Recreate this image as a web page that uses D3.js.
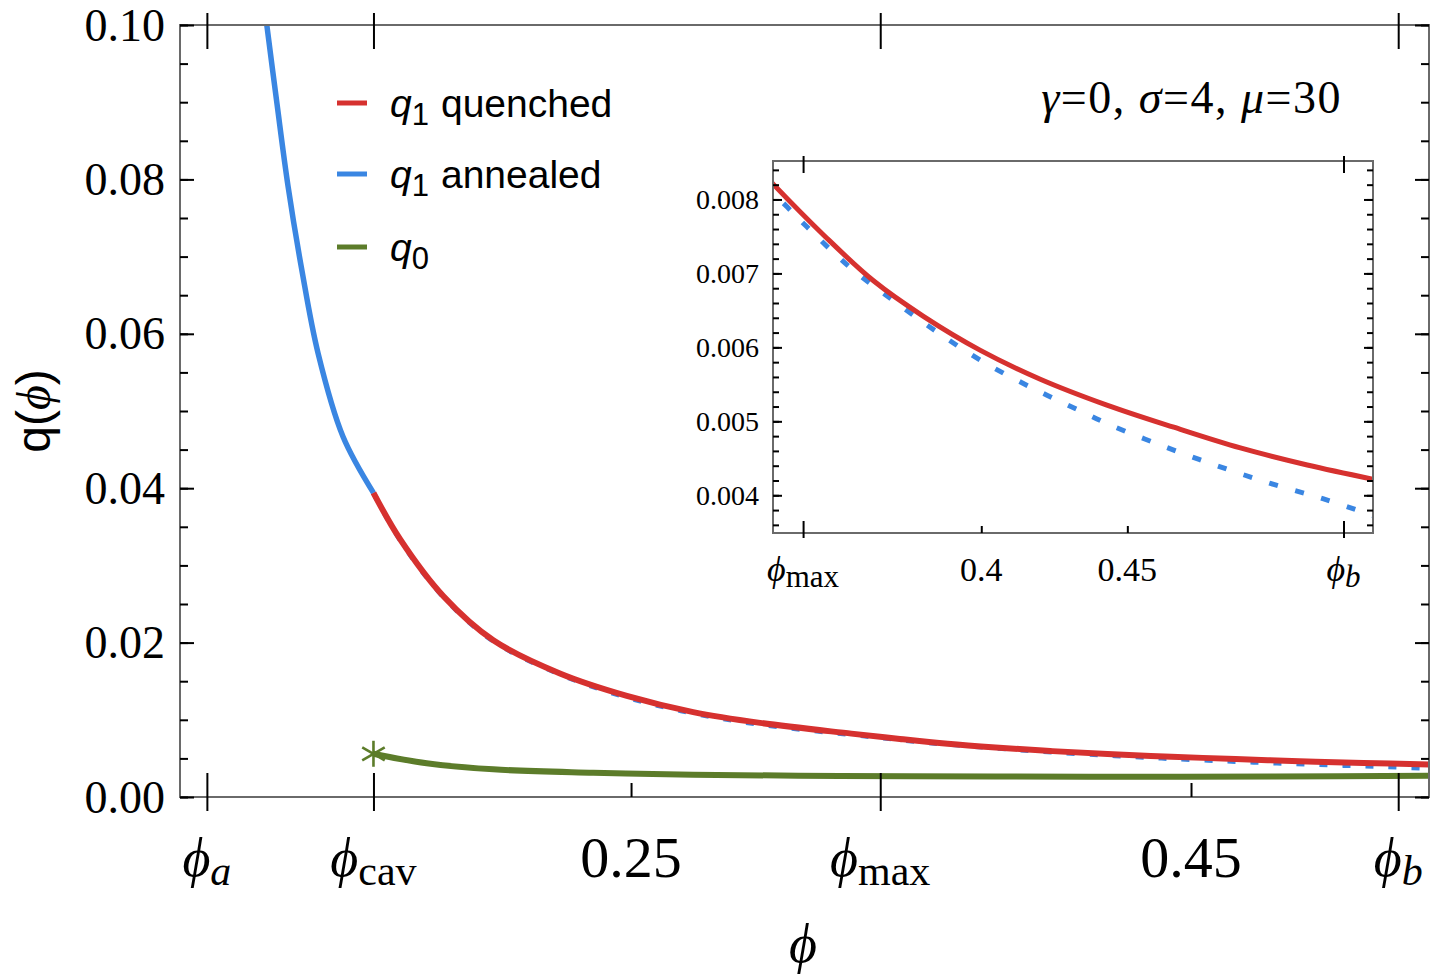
<!DOCTYPE html>
<html>
<head>
<meta charset="utf-8">
<script src="https://cdn.jsdelivr.net/npm/d3@7"></script>
<style>
  html, body { margin: 0; padding: 0; background: #fff; }
  svg { display: block; }
  .serif { font-family: "Liberation Serif", "Times New Roman", serif; }
  .sans { font-family: "Liberation Sans", Arial, sans-serif; }
</style>
</head>
<body>
<svg id="chart"></svg>
<script>
// special points on the phi axis
const phiA = 0.0985, phiCav = 0.158, phiMax = 0.339, phiB = 0.524;

// q1 annealed, solid part (phi < phi_cav)
const annealedPhi = [0.1199, 0.1235, 0.1275, 0.1324, 0.1382, 0.1471, 0.158];
const annealedQ   = [0.1000, 0.0899, 0.0791, 0.0683, 0.0575, 0.0467, 0.0394];

// q1 annealed, dotted part (phi > phi_cav)
const annealedDotPhi = [0.158, 0.1675, 0.183, 0.2008, 0.2246, 0.2485, 0.2722, 0.2961, 0.3335, 0.3403,
                        0.3551, 0.370, 0.3848, 0.4008, 0.419, 0.435, 0.4442, 0.4626, 0.4807, 0.499, 0.5172, 0.5345];
const annealedDotQ   = [0.0394, 0.0333, 0.0259, 0.0202, 0.0159, 0.0129, 0.01085, 0.0094, 0.0079, 0.00763,
                        0.00708, 0.00663, 0.00621, 0.0058, 0.00542, 0.00512, 0.00495, 0.00466, 0.0044, 0.00416, 0.00395, 0.00372];

// q1 quenched
const quenchedPhi = [0.158, 0.1675, 0.183, 0.2008, 0.2246, 0.2485, 0.2722, 0.2961, 0.3287, 0.346,
                     0.3631, 0.3802, 0.3997, 0.4202, 0.443, 0.4659, 0.4887, 0.5116, 0.535];
const quenchedQ   = [0.0394, 0.0334, 0.0260, 0.0203, 0.0160, 0.0131, 0.0110, 0.0096, 0.00821, 0.00752,
                     0.0069, 0.00642, 0.00596, 0.00557, 0.00522, 0.00492, 0.00464, 0.00441, 0.00421];

// q0
const q0Phi = [0.158, 0.177, 0.2008, 0.2365, 0.2722, 0.3246, 0.38, 0.43, 0.48, 0.535];
const q0Q   = [0.0056, 0.00436, 0.00358, 0.00315, 0.00289, 0.00272, 0.00265, 0.00262, 0.00266, 0.00275];

// ticks
const yTicks = [0, 0.02, 0.04, 0.06, 0.08, 0.10];
const yMinor = d3.range(0, 0.1001, 0.005);
const xNumTicks = [0.25, 0.45];
const xSpecTicks = [phiA, phiCav, phiMax, phiB];
const xSpecNames = ['a', 'cav', 'max', 'b'];
const insetYTicks = [0.004, 0.005, 0.006, 0.007, 0.008];
const insetYMinor = d3.range(0.0036, 0.00851, 0.0002);
const insetXNumTicks = [0.4, 0.45];
const insetXSpecTicks = [phiMax, phiB];
const insetXSpecNames = ['max', 'b'];

const legendNames = ['quenched', 'annealed', ''];
const legendSubs = ['1', '1', '0'];
const colors = { red: '#d6312f', blue: '#3a86e2', green: '#5c7c2a' };
const legendColors = [colors.red, colors.blue, colors.green];

const width = 1440, height = 978;
const frameColor = '#6a6a6a';

const svg = d3.select('#chart')
  .attr('width', width)
  .attr('height', height);

// Main scales
const m = { left: 180, right: 1429, top: 25, bottom: 797 };
const x = d3.scaleLinear().domain([0.0889, 0.535]).range([m.left, m.right]);
const y = d3.scaleLinear().domain([0, 0.1]).range([m.bottom, m.top]);

const line = (xs, ys) => d3.line()
  .x(d => xs(d[0])).y(d => ys(d[1]))
  .curve(d3.curveCatmullRom.alpha(0.5));

svg.append('clipPath').attr('id', 'clipMain')
  .append('rect').attr('x', m.left).attr('y', m.top)
  .attr('width', m.right - m.left).attr('height', m.bottom - m.top);

const plot = svg.append('g').attr('clip-path', 'url(#clipMain)');

plot.append('path')
  .datum(d3.zip(annealedDotPhi, annealedDotQ))
  .attr('d', line(x, y))
  .attr('fill', 'none').attr('stroke', colors.blue)
  .attr('stroke-width', 5).attr('stroke-dasharray', '8,15');

plot.append('path')
  .datum(d3.zip(annealedPhi, annealedQ))
  .attr('d', line(x, y))
  .attr('fill', 'none').attr('stroke', colors.blue).attr('stroke-width', 5.5);

plot.append('path')
  .datum(d3.zip(quenchedPhi, quenchedQ))
  .attr('d', line(x, y))
  .attr('fill', 'none').attr('stroke', colors.red).attr('stroke-width', 6);

plot.append('path')
  .datum(d3.zip(q0Phi, q0Q))
  .attr('d', line(x, y))
  .attr('fill', 'none').attr('stroke', colors.green).attr('stroke-width', 6);

// star marker at start of q0
const star = svg.append('g')
  .attr('transform', `translate(${x(q0Phi[0])},${y(q0Q[0])})`)
  .attr('stroke', colors.green).attr('stroke-width', 2.6);
[90, 30, -30].forEach(a => {
  const r = 13, t = a * Math.PI / 180;
  star.append('line')
    .attr('x1', -r * Math.cos(t)).attr('y1', -r * Math.sin(t))
    .attr('x2', r * Math.cos(t)).attr('y2', r * Math.sin(t));
});

// Main frame
svg.append('rect')
  .attr('x', m.left).attr('y', m.top)
  .attr('width', m.right - m.left).attr('height', m.bottom - m.top)
  .attr('fill', 'none').attr('stroke', frameColor).attr('stroke-width', 2);

function tickAxis(axis, tx, ty, len) {
  const g = svg.append('g')
    .attr('transform', `translate(${tx},${ty})`)
    .call(axis.tickSize(len).tickFormat(''));
  g.select('.domain').remove();
  g.selectAll('line').attr('stroke', '#000').attr('stroke-width', 2);
  return g;
}

// y ticks main (left & right, inward)
tickAxis(d3.axisRight(y).tickValues(yMinor), m.left, 0, 8);
tickAxis(d3.axisRight(y).tickValues(yTicks), m.left, 0, 14);
tickAxis(d3.axisLeft(y).tickValues(yMinor), m.right, 0, 8);
tickAxis(d3.axisLeft(y).tickValues(yTicks), m.right, 0, 14);

// x ticks main
tickAxis(d3.axisTop(x).tickValues(xNumTicks), 0, m.bottom, 14);
tickAxis(d3.axisBottom(x).tickValues(xSpecTicks), 0, m.bottom - 24, 38);
tickAxis(d3.axisBottom(x).tickValues(xSpecTicks), 0, m.top - 12, 36);

// y labels main
const yLab = svg.append('g')
  .attr('transform', `translate(${m.left},0)`)
  .call(d3.axisLeft(y).tickValues(yTicks).tickSize(0).tickPadding(15).tickFormat(d3.format('.2f')));
yLab.select('.domain').remove();
yLab.selectAll('text').attr('class', 'serif').attr('font-size', 46).attr('fill', '#000')
  .attr('font-family', null).attr('dy', '0.33em');

// x labels main
svg.append('g').selectAll('text')
  .data(xNumTicks).enter().append('text')
  .attr('class', 'serif')
  .attr('x', d => x(d)).attr('y', 877)
  .attr('text-anchor', 'middle').attr('font-size', 58)
  .text(d => d3.format('.2f')(d));

function phiLabel(g, px, py, sub, size, subSize) {
  const t = g.append('text').attr('class', 'serif')
    .attr('x', px).attr('y', py).attr('text-anchor', 'middle').attr('font-size', size);
  t.append('tspan').attr('font-style', 'italic').text('\u03D5');
  t.append('tspan').attr('font-size', subSize).attr('dy', size * 0.17)
    .attr('font-style', (sub === 'a' || sub === 'b') ? 'italic' : 'normal')
    .text(sub);
}
const xl = svg.append('g');
xSpecTicks.forEach((v, i) => phiLabel(xl, x(v), 876, xSpecNames[i], 54, 42));

// axis titles
svg.append('text').attr('class', 'serif')
  .attr('x', 803).attr('y', 962).attr('text-anchor', 'middle')
  .attr('font-size', 54).attr('font-style', 'italic').text('\u03D5');

const yt = svg.append('text')
  .attr('transform', 'translate(50,411) rotate(-90)')
  .attr('text-anchor', 'middle').attr('font-size', 48);
yt.append('tspan').attr('class', 'sans').text('q(');
yt.append('tspan').attr('class', 'serif').attr('font-style', 'italic').text('\u03D5');
yt.append('tspan').attr('class', 'sans').text(')');

// legend
const legend = svg.append('g');
legendNames.forEach((name, i) => {
  const by = [117, 188, 261][i];
  legend.append('line')
    .attr('x1', 337).attr('x2', 367).attr('y1', by - 14).attr('y2', by - 14)
    .attr('stroke', legendColors[i]).attr('stroke-width', 5);
  const t = legend.append('text').attr('class', 'sans')
    .attr('x', 390).attr('y', by).attr('font-size', 39);
  t.append('tspan').attr('font-style', 'italic').text('q');
  t.append('tspan').attr('font-size', 31).attr('dy', 8).text(legendSubs[i]);
  if (name) t.append('tspan').attr('dy', -8).attr('dx', 12).text(name);
});

// parameter annotation
const ann = svg.append('text').attr('class', 'serif')
  .attr('x', 1342).attr('y', 113).attr('text-anchor', 'end').attr('font-size', 46)
  .attr('letter-spacing', 1.5);
[['\u03B3', true], ['=0, ', false], ['\u03C3', true], ['=4, ', false], ['\u03BC', true], ['=30', false]]
  .forEach(([s, it]) => ann.append('tspan').attr('font-style', it ? 'italic' : 'normal').text(s));

// ---- Inset ----
const n = { left: 773, right: 1373, top: 161, bottom: 533 };
const xi = d3.scaleLinear().domain([0.3287, 0.5341]).range([n.left, n.right]);
const yi = d3.scaleLinear().domain([0.00349, 0.00852]).range([n.bottom, n.top]);

svg.append('rect')
  .attr('x', n.left).attr('y', n.top)
  .attr('width', n.right - n.left).attr('height', n.bottom - n.top)
  .attr('fill', '#fff');

svg.append('clipPath').attr('id', 'clipInset')
  .append('rect').attr('x', n.left).attr('y', n.top)
  .attr('width', n.right - n.left).attr('height', n.bottom - n.top);

const inset = svg.append('g').attr('clip-path', 'url(#clipInset)');

inset.append('path')
  .datum(d3.zip(annealedDotPhi, annealedDotQ))
  .attr('d', line(xi, yi))
  .attr('fill', 'none').attr('stroke', colors.blue)
  .attr('stroke-width', 5).attr('stroke-dasharray', '9,18');

inset.append('path')
  .datum(d3.zip(quenchedPhi, quenchedQ))
  .attr('d', line(xi, yi))
  .attr('fill', 'none').attr('stroke', colors.red).attr('stroke-width', 5);

svg.append('rect')
  .attr('x', n.left).attr('y', n.top)
  .attr('width', n.right - n.left).attr('height', n.bottom - n.top)
  .attr('fill', 'none').attr('stroke', frameColor).attr('stroke-width', 2);

tickAxis(d3.axisRight(yi).tickValues(insetYMinor), n.left, 0, 6);
tickAxis(d3.axisRight(yi).tickValues(insetYTicks), n.left, 0, 9);
tickAxis(d3.axisLeft(yi).tickValues(insetYMinor), n.right, 0, 6);
tickAxis(d3.axisLeft(yi).tickValues(insetYTicks), n.right, 0, 9);
tickAxis(d3.axisTop(xi).tickValues(insetXNumTicks), 0, n.bottom, 7);
tickAxis(d3.axisBottom(xi).tickValues(insetXSpecTicks), 0, n.bottom - 12, 17);
tickAxis(d3.axisBottom(xi).tickValues(insetXSpecTicks), 0, n.top - 5, 17);

const yiLab = svg.append('g')
  .attr('transform', `translate(${n.left},0)`)
  .call(d3.axisLeft(yi).tickValues(insetYTicks).tickSize(0).tickPadding(14).tickFormat(d3.format('.3f')));
yiLab.select('.domain').remove();
yiLab.selectAll('text').attr('class', 'serif').attr('font-size', 28).attr('fill', '#000')
  .attr('font-family', null).attr('dy', '0.33em');

svg.append('g').selectAll('text')
  .data(insetXNumTicks).enter().append('text')
  .attr('class', 'serif')
  .attr('x', d => xi(d)).attr('y', 581)
  .attr('text-anchor', 'middle').attr('font-size', 34)
  .text(d => d3.format('')(d));

const xil = svg.append('g');
insetXSpecTicks.forEach((v, i) => phiLabel(xil, xi(v), 581, insetXSpecNames[i], 36, 31));
</script>
</body>
</html>
